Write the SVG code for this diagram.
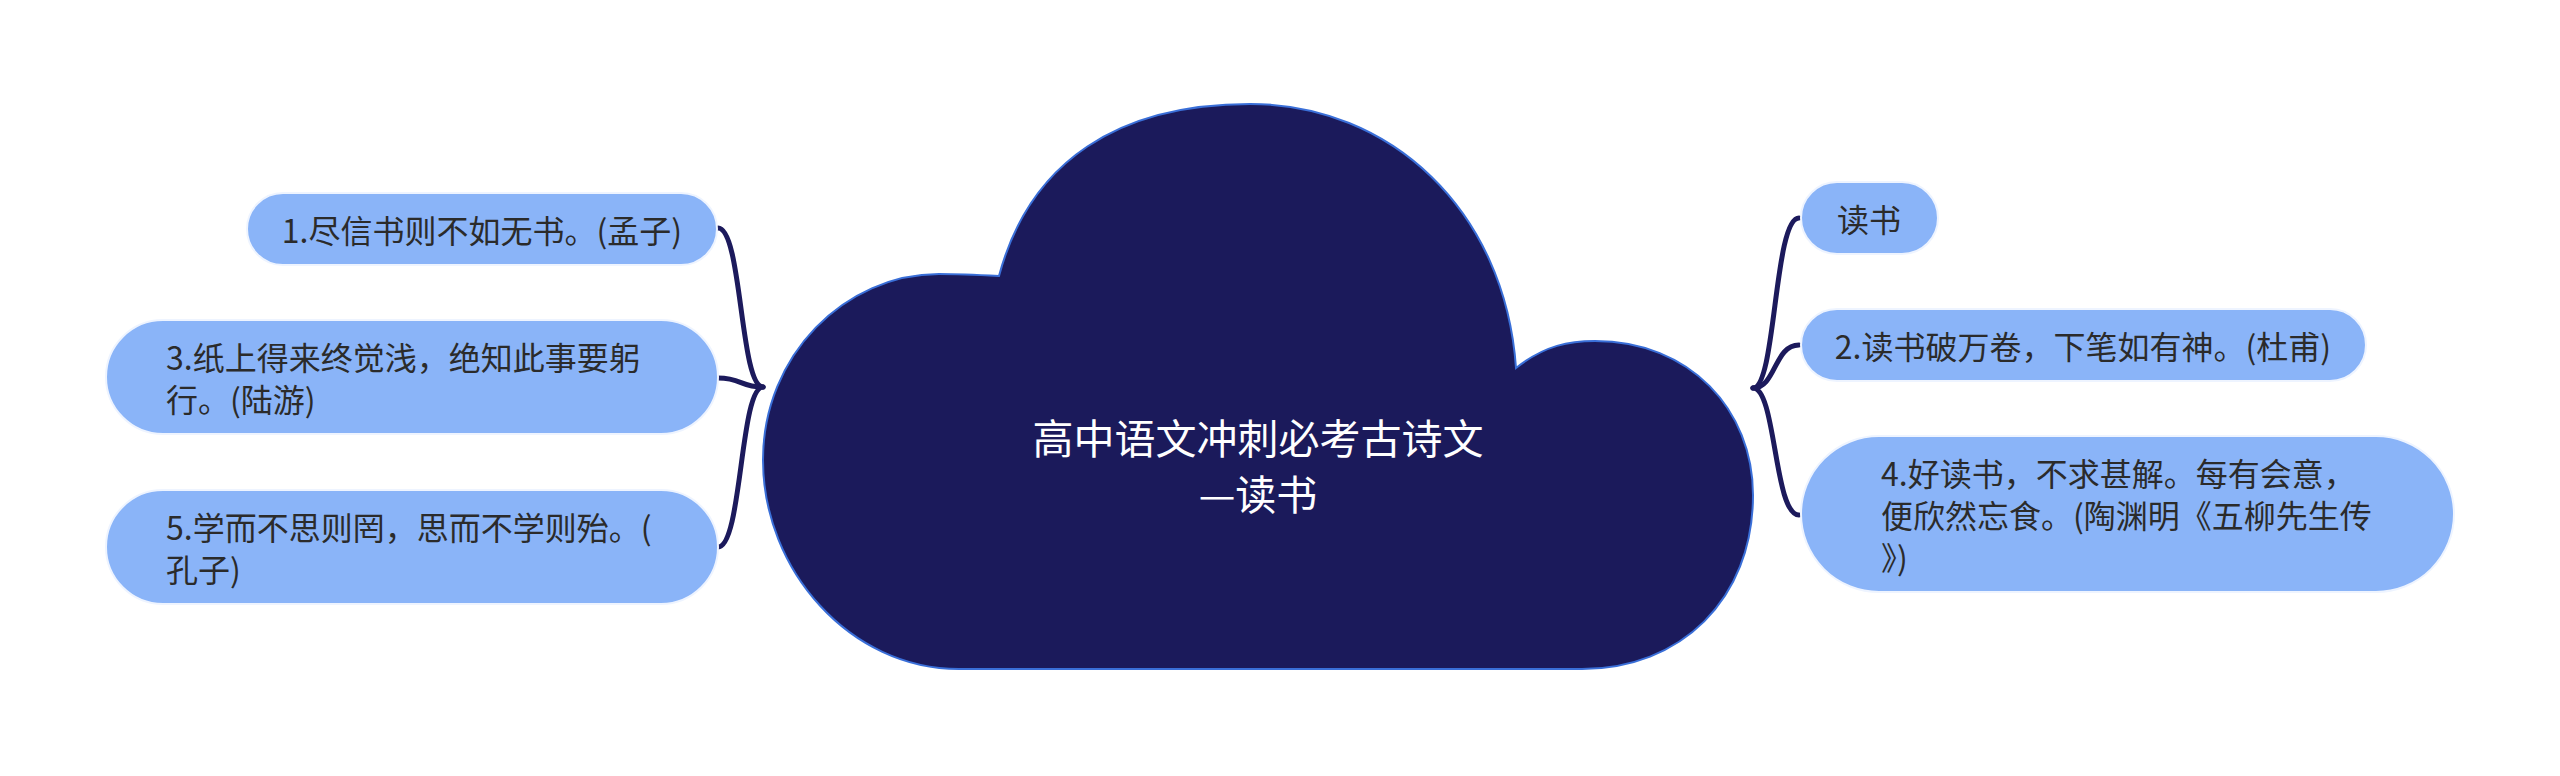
<svg xmlns="http://www.w3.org/2000/svg" width="2560" height="776" viewBox="0 0 2560 776">
<style>
.node rect{fill:#8ab4f8;stroke:#eef4ff;stroke-width:2}
.node text{font-family:"Noto Sans CJK SC","Liberation Sans",sans-serif;font-size:32px;fill:#2b2b2b;dominant-baseline:central}
.conn path{fill:none;stroke:#1c1a5c;stroke-width:5;stroke-linecap:round}
.title{font-family:"Noto Sans CJK SC","Liberation Sans",sans-serif;font-size:41px;fill:#ffffff;dominant-baseline:central;text-anchor:middle}
</style>
<rect width="2560" height="776" fill="#ffffff"/>
<g id="connectors" class="conn">
<path d="M763,387 C740,387 742,228 718,228"/>
<path d="M763,387 C740,387 742,378 718,378"/>
<path d="M763,387 C740,387 742,547 718,547"/>
<path d="M1753,388 C1776,388 1774,218 1799,218"/>
<path d="M1753,388 C1776,388 1774,345 1799,345"/>
<path d="M1753,388 C1776,388 1774,515 1799,515"/>
</g>
<g id="center">
<path d="M999,276 C1030,160 1120,104 1250,104 C1390,104 1505,210 1516,368 C1545,345 1570,341 1595,341 C1690,341 1753,410 1753,495 C1753,600 1680,669 1582,669 L959,669 C850,669 763,570 763,460 C763,355 845,274 939,274 C960,274 980,275 999,276 Z" fill="#1b1a5b" stroke="#3a6fd8" stroke-width="2"/>
<text class="title" x="1258" y="436">高中语文冲刺必考古诗文</text>
<text class="title" x="1258" y="492">—读书</text>
</g>
<g id="n1" class="node">
<rect x="247" y="193" width="470" height="72" rx="36"/>
<text x="482" y="229" text-anchor="middle">1.尽信书则不如无书。(孟子)</text>
</g>
<g id="n3" class="node">
<rect x="106" y="320" width="612" height="114" rx="57"/>
<text x="166" y="356">3.纸上得来终觉浅，绝知此事要躬</text>
<text x="166" y="398">行。(陆游)</text>
</g>
<g id="n5" class="node">
<rect x="106" y="490" width="612" height="114" rx="57"/>
<text x="166" y="526">5.学而不思则罔，思而不学则殆。(</text>
<text x="166" y="568">孔子)</text>
</g>
<g id="r0" class="node">
<rect x="1801" y="182" width="137" height="72" rx="36"/>
<text x="1869" y="218" text-anchor="middle">读书</text>
</g>
<g id="n2" class="node">
<rect x="1801" y="309" width="565" height="72" rx="36"/>
<text x="2083" y="345" text-anchor="middle">2.读书破万卷，下笔如有神。(杜甫)</text>
</g>
<g id="n4" class="node">
<rect x="1801" y="436" width="653" height="156" rx="78"/>
<text x="1881" y="472">4.好读书，不求甚解。每有会意，</text>
<text x="1881" y="514">便欣然忘食。(陶渊明《五柳先生传</text>
<text x="1881" y="556">》)</text>
</g>
</svg>
